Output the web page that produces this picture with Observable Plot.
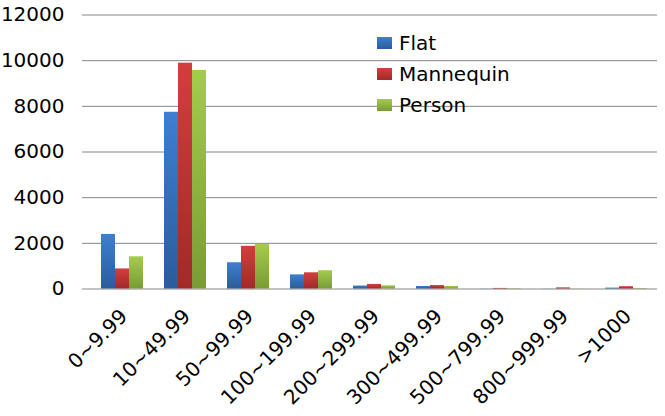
<!DOCTYPE html>
<html>
<head>
<meta charset="utf-8">
<script src="https://cdn.jsdelivr.net/npm/d3@7"></script>
<script src="https://cdn.jsdelivr.net/npm/@observablehq/plot@0.6"></script>
<style>
  html, body { margin: 0; padding: 0; background: #fff; }
  #wrap { position: relative; width: 665px; height: 416px; font-family: "DejaVu Sans", sans-serif; }
  #legend { position: absolute; left: 377px; top: 27px; }
  .row { display: flex; align-items: center; height: 31.3px; font-size: 20px; color: #000; }
  .sw { width: 15px; height: 12px; margin-right: 7px; }
</style>
</head>
<body>
<div id="wrap"><div id="legend"></div></div>
<script>
const categories = ["0~9.99", "10~49.99", "50~99.99", "100~199.99", "200~299.99", "300~499.99", "500~799.99", "800~999.99", ">1000"];
const series = ["Flat", "Mannequin", "Person"];
const flat = [2390, 7740, 1150, 620, 130, 110, 5, 5, 40];
const mannequin = [880, 9890, 1870, 710, 200, 150, 25, 50, 100];
const person = [1410, 9570, 1950, 800, 140, 110, 15, 5, 20];
const yTicks = [0, 2000, 4000, 6000, 8000, 10000, 12000];
const gradTop = ["#3d7fd2", "#d33e3e", "#a4cc4c"];
const gradBottom = ["#2b5c9b", "#a02a2a", "#7a9b36"];
const gradIds = ["g-flat", "g-mannequin", "g-person"];

const valuesBySeries = [flat, mannequin, person];
const table = [];
series.forEach((s, si) => categories.forEach((c, ci) => table.push({category: c, series: s, value: valuesBySeries[si][ci]})));

const W = 665, H = 416, mL = 89, mR = 8, mT = 14.5, mB = 127.5;
const half = (W - mL - mR) / categories.length / 2;
const gray = "#868686";

const plot = Plot.plot({
  width: W, height: H,
  marginLeft: mL, marginRight: mR, marginTop: mT, marginBottom: mB,
  style: {fontFamily: "DejaVu Sans, sans-serif", fontSize: "20px", color: "#000", background: "transparent"},
  fx: {domain: categories, padding: 0, axis: null, label: null},
  x: {domain: series, paddingInner: 0, paddingOuter: 0.68, axis: null},
  y: {domain: [0, 12000], axis: null},
  color: {domain: series, range: gradIds.map(id => `url(#${id})`)},
  marks: [
    Plot.gridY(yTicks, {stroke: gray, strokeOpacity: 1, strokeWidth: 1}),
    Plot.barY(table, {fx: "category", x: "series", y: "value", fill: "series"}),
    Plot.ruleX([categories[0]], {fx: d => d, dx: -half, y1: 0, y2: 12000, stroke: gray}),
    Plot.ruleX(categories, {fx: d => d, dx: -half, y1: 0, y2: 0, insetBottom: -7, stroke: gray}),
    Plot.ruleX([categories[categories.length - 1]], {fx: d => d, dx: half, y1: 0, y2: 0, insetBottom: -7, stroke: gray}),
    Plot.axisY({ticks: yTicks, tickSize: 8, tickPadding: 18, stroke: gray, fill: "#000", fontSize: 20, tickFormat: d => String(d), label: null}),
    Plot.axisFx({anchor: "bottom", tickRotate: -45, tickSize: 0, tickPadding: 24, dx: 2, fontSize: 20, fill: "#000", label: null})
  ]
});

const ns = "http://www.w3.org/2000/svg";
const svgEl = plot.tagName.toLowerCase() === "svg" ? plot : plot.querySelector("svg");
const defs = document.createElementNS(ns, "defs");
gradIds.forEach((id, i) => {
  const g = document.createElementNS(ns, "linearGradient");
  g.setAttribute("id", id);
  g.setAttribute("x1", "0"); g.setAttribute("y1", "0"); g.setAttribute("x2", "0"); g.setAttribute("y2", "1");
  [[0, gradTop[i]], [1, gradBottom[i]]].forEach(([o, c]) => {
    const st = document.createElementNS(ns, "stop");
    st.setAttribute("offset", o); st.setAttribute("stop-color", c);
    g.appendChild(st);
  });
  defs.appendChild(g);
});
svgEl.insertBefore(defs, svgEl.firstChild);

const wrap = document.getElementById("wrap");
wrap.insertBefore(plot, wrap.firstChild);

const legend = document.getElementById("legend");
series.forEach((s, i) => {
  const row = document.createElement("div");
  row.className = "row";
  const sw = document.createElement("div");
  sw.className = "sw";
  sw.style.background = `linear-gradient(${gradTop[i]}, ${gradBottom[i]})`;
  const t = document.createElement("span");
  t.textContent = s;
  row.appendChild(sw); row.appendChild(t);
  legend.appendChild(row);
});
</script>
</body>
</html>
